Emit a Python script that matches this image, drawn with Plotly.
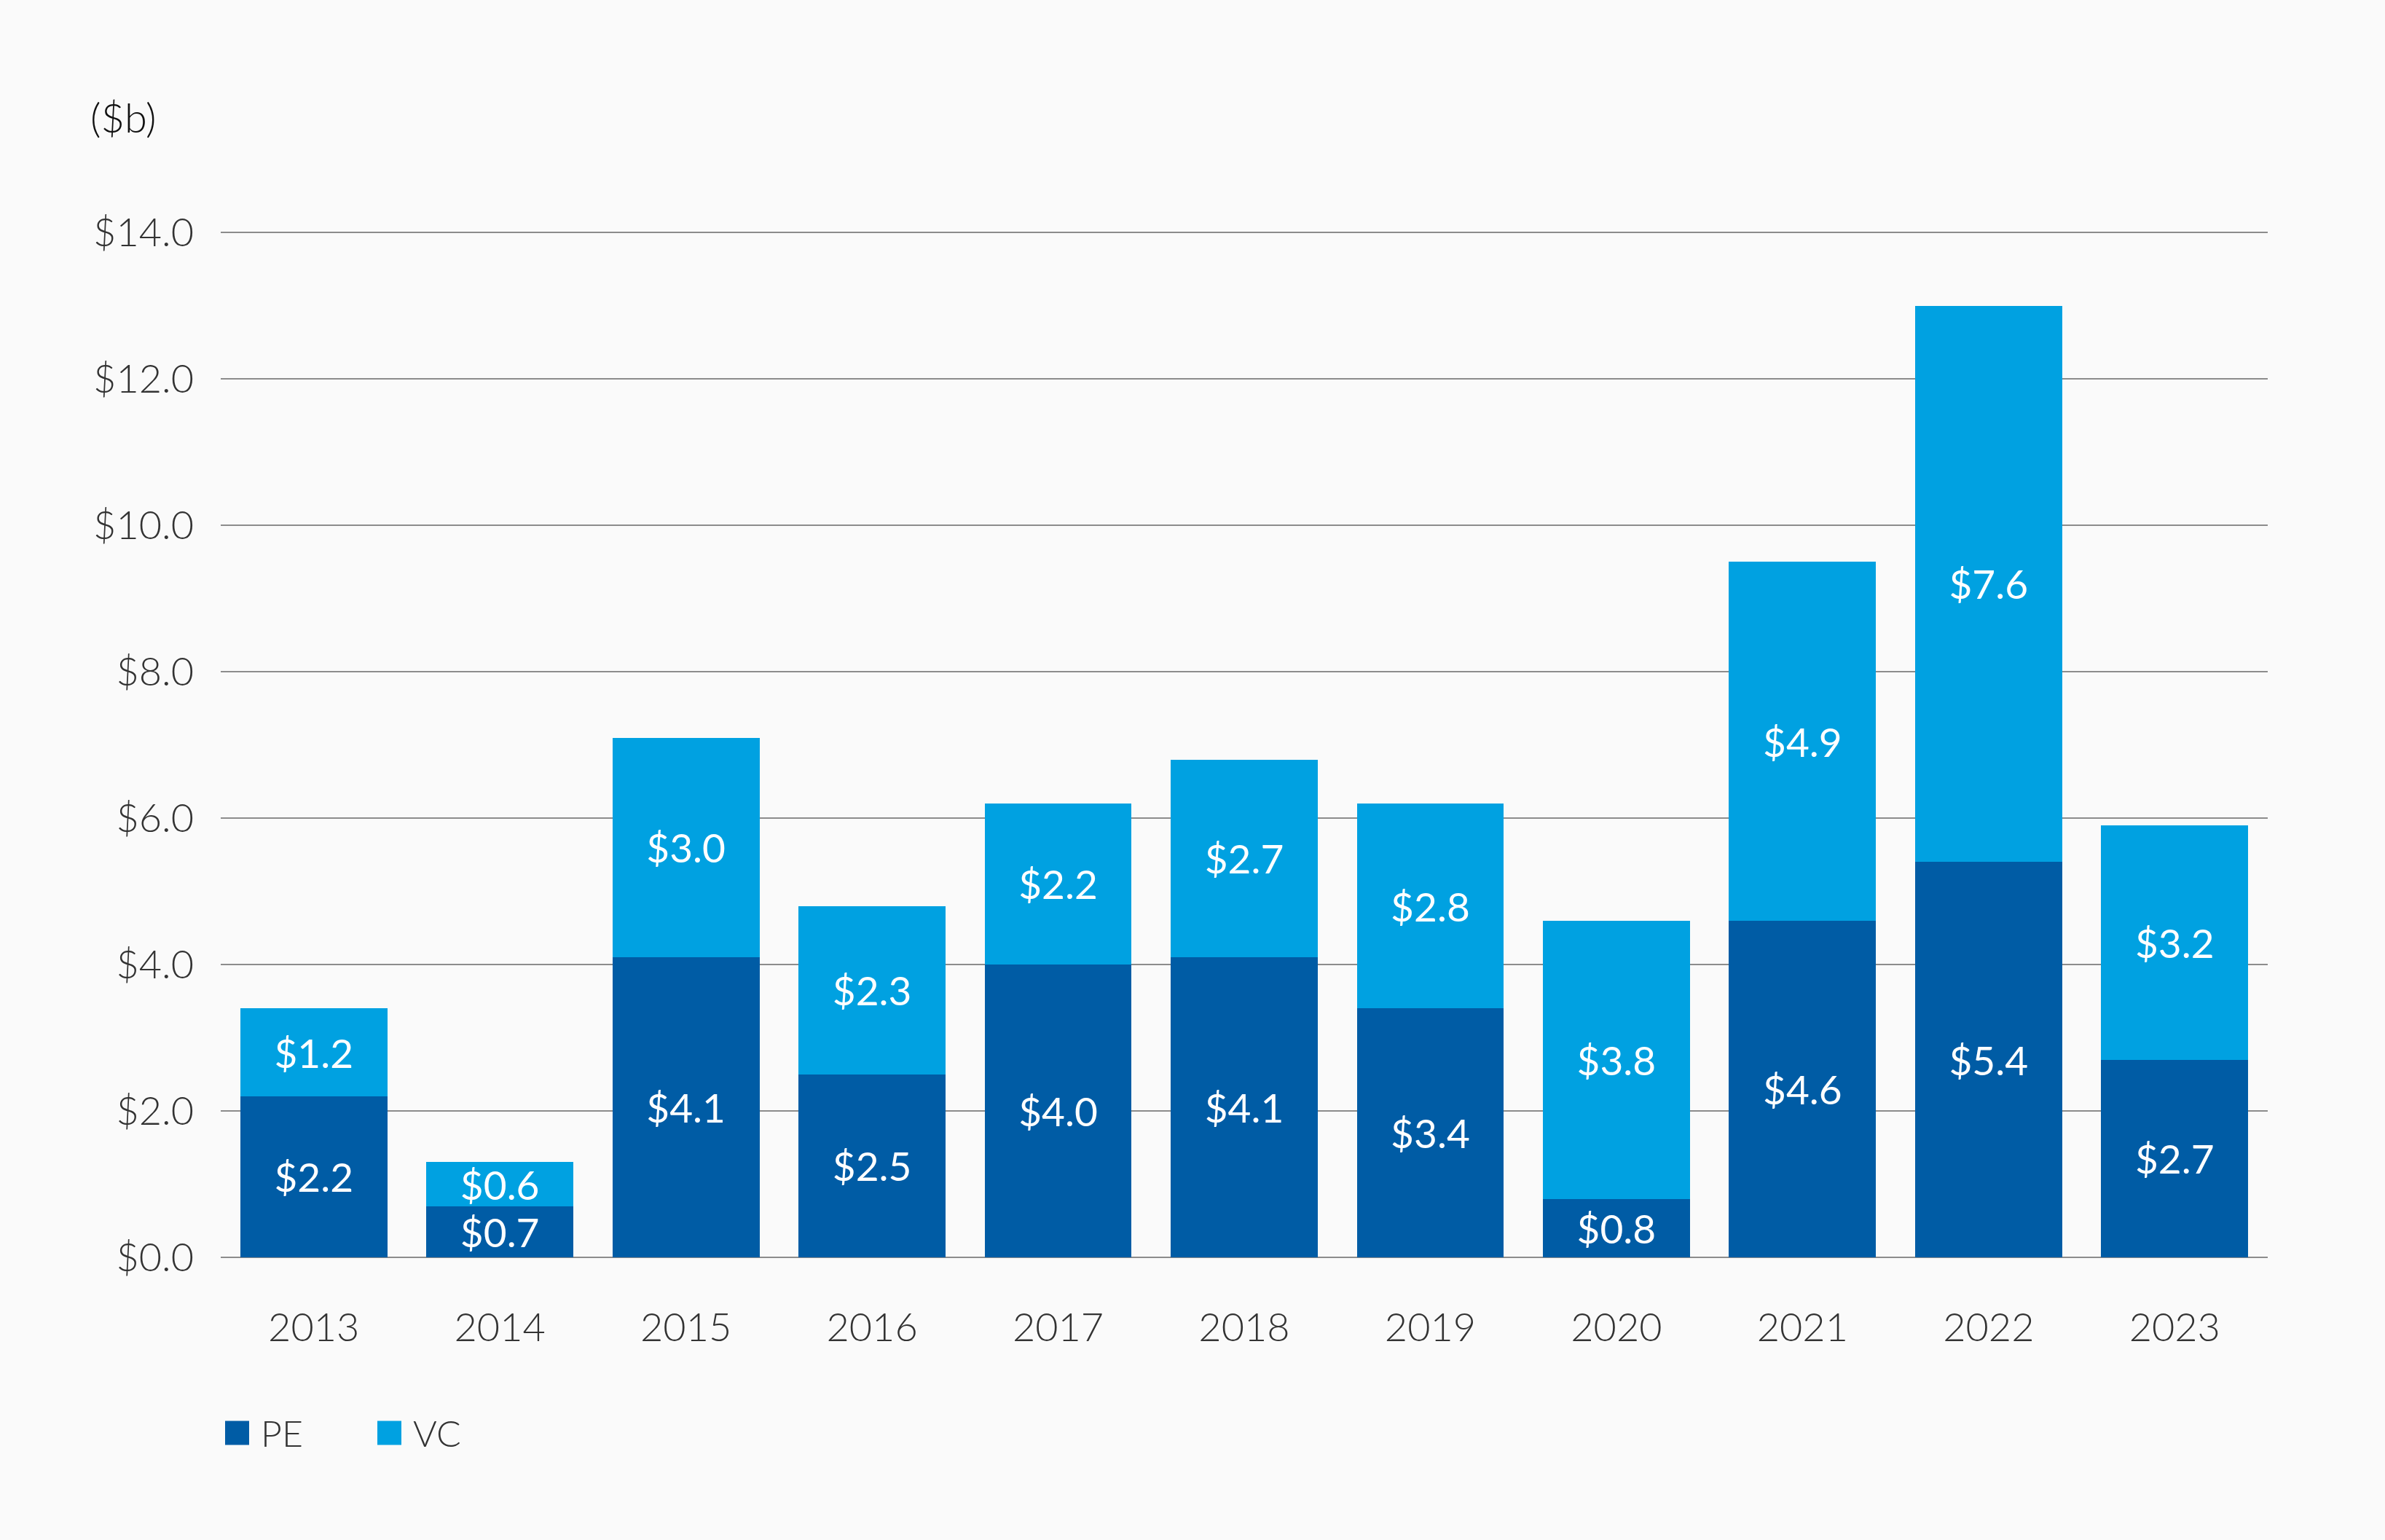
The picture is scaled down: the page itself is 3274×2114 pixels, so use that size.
import plotly.graph_objects as go

years = ["2013", "2014", "2015", "2016", "2017", "2018", "2019", "2020", "2021", "2022", "2023"]
pe = [2.2, 0.7, 4.1, 2.5, 4.0, 4.1, 3.4, 0.8, 4.6, 5.4, 2.7]
vc = [1.2, 0.6, 3.0, 2.3, 2.2, 2.7, 2.8, 3.8, 4.9, 7.6, 3.2]
y_ticks = [0, 2, 4, 6, 8, 10, 12, 14]
y_tick_text = ["$0.0", "$2.0", "$4.0", "$6.0", "$8.0", "$10.0", "$12.0", "$14.0"]

PE_COLOR = "#005CA5"
VC_COLOR = "#00A1E1"
BG = "#FAFAFA"
FONT = "Lato"
W, H = 3274, 2114
L, R, T, B = 303, 161, 299, 388
PW = W - L - R
PH = H - T - B

fig = go.Figure()
for name, vals, col in [("PE", pe, PE_COLOR), ("VC", vc, VC_COLOR)]:
    fig.add_trace(go.Bar(
        x=years, y=vals, name=name, marker=dict(color=col, line=dict(width=0)),
        texttemplate="$%{y:.1f}", textposition="inside", insidetextanchor="middle",
        textangle=0, constraintext="none",
        textfont=dict(family=FONT, size=55, color="white", weight=400),
        showlegend=False,
    ))

fig.update_layout(
    barmode="stack", bargap=0.21,
    width=W, height=H,
    margin=dict(l=L, r=R, t=T, b=B),
    paper_bgcolor=BG, plot_bgcolor=BG,
    font=dict(family=FONT, size=54, color="#333333", weight=300),
    uniformtext=dict(minsize=55, mode="show"),
    xaxis=dict(type="category", showgrid=False, showline=False, ticks="",
               ticklabelstandoff=60,
               tickfont=dict(family=FONT, size=54, color="#333333", weight=300)),
    yaxis=dict(range=[0, 14.2], tickvals=y_ticks, ticktext=y_tick_text,
               showgrid=True, gridcolor="#8C8C8C", gridwidth=2,
               zeroline=True, zerolinecolor="#8C8C8C", zerolinewidth=2,
               showline=False, ticks="", ticklabelstandoff=36,
               tickfont=dict(family=FONT, size=54, color="#333333", weight=300)),
)

def px_x(x):
    return (x - L) / PW

def px_y(y):
    return (H - B - y) / PH

# unit label
fig.add_annotation(text="($b)", xref="paper", yref="paper", x=px_x(122), y=px_y(161),
                   xanchor="left", yanchor="middle", showarrow=False,
                   font=dict(family=FONT, size=56, color="#111111", weight=300))

# legend
for name, col, sx, tx in [("PE", PE_COLOR, 309, 356), ("VC", VC_COLOR, 518, 565)]:
    fig.add_shape(type="rect", xref="paper", yref="paper",
                  x0=px_x(sx), x1=px_x(sx + 33), y0=px_y(1967 + 16.5), y1=px_y(1967 - 16.5),
                  fillcolor=col, line=dict(width=0))
    fig.add_annotation(text=name, xref="paper", yref="paper", x=px_x(tx), y=px_y(1967),
                       xanchor="left", yanchor="middle", showarrow=False,
                       font=dict(family=FONT, size=50, color="#333333", weight=300))

fig.write_html("out.html",
               config={"displayModeBar": False},
               post_script="document.body.style.margin='0';document.body.style.background='%s';" % BG)
